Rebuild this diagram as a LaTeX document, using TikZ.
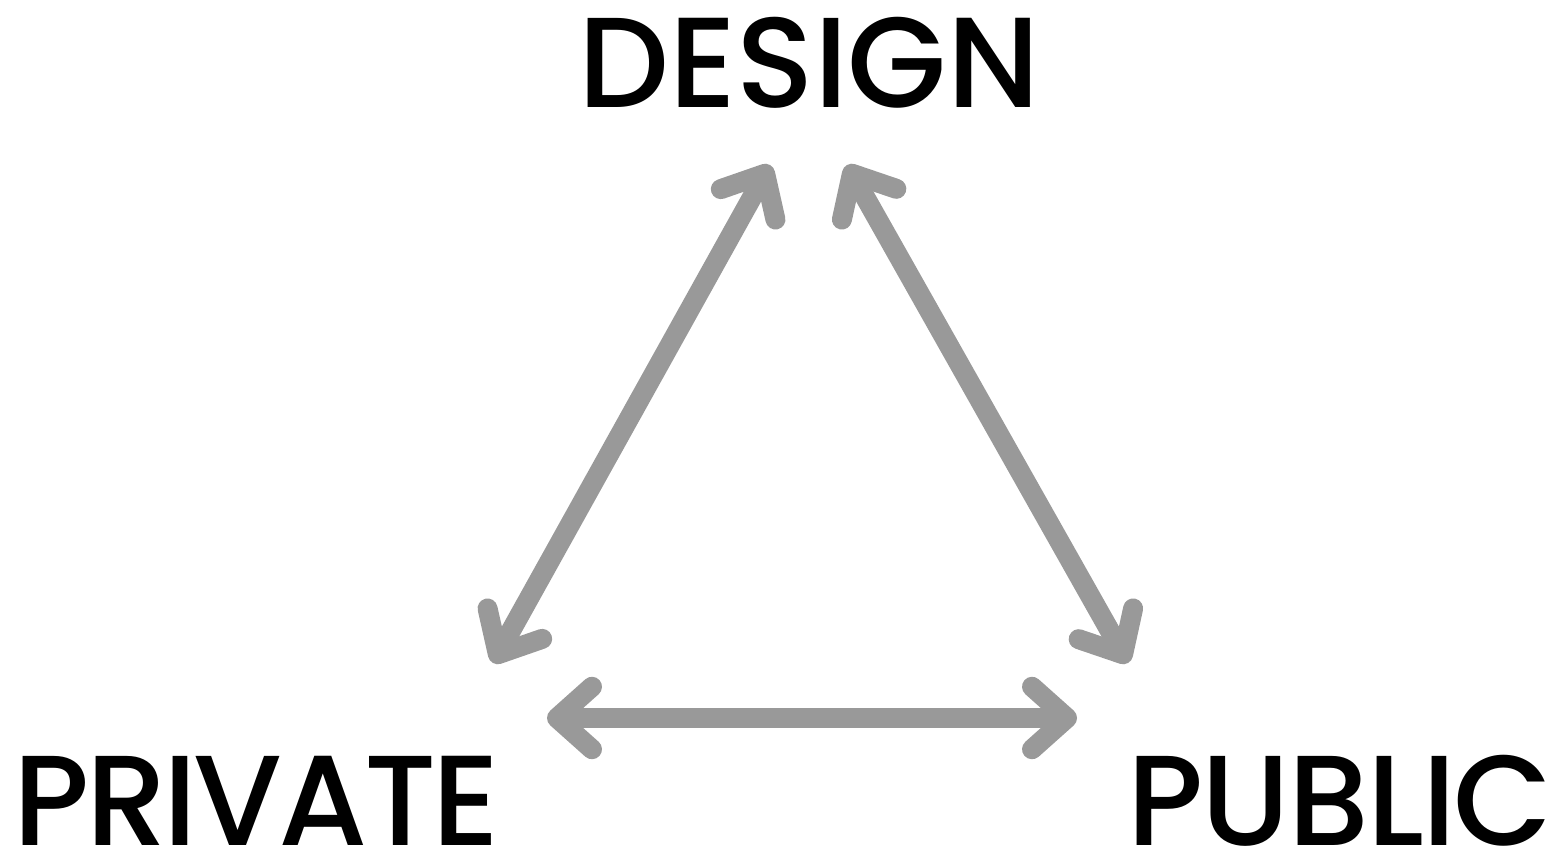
\documentclass[tikz,border=0pt]{standalone}
\usepackage{fontspec}
\newfontfamily\labelfont{Poppins Medium}
\usetikzlibrary{arrows.meta, positioning}

\begin{document}
\begin{tikzpicture}[
  x=0.02cm, y=-0.02cm,
  arr/.style = {{Straight Barb[length=0.7cm, width=1.25cm, line cap=round, line join=round]}-{Straight Barb[length=0.7cm, width=1.25cm, line cap=round, line join=round]},
                line width=0.4cm, draw=gray!80},
  lbl/.style = {inner sep=0pt, anchor=base, text depth=0pt,
                font=\labelfont\fontsize{73}{80}\selectfont},
]
\useasboundingbox (0,0) rectangle (1558,854);

% ── Labels ────────────────────────────────────────────────────────────────────
\node[lbl] (design)  at (809,108)  {DESIGN};
\node[lbl] (private) at (257,845)  {\addfontfeature{LetterSpace=-3}PRIVATE};
\node[lbl] (public)  at (1340,845) {\addfontfeature{LetterSpace=-1.5}PUBLIC};

% ── Arrow ends ────────────────────────────────────────────────────────────────
\coordinate (dl) at (770,165);
\coordinate (dr) at (847,165);
\coordinate (pt) at (493,663);
\coordinate (pr) at (547,718);
\coordinate (qt) at (1128,663);
\coordinate (ql) at (1077,718);

% ── Arrows ────────────────────────────────────────────────────────────────────
\foreach \from/\to in {dl/pt, dr/qt, pr/ql}
  \draw[arr] (\from) -- (\to);

\end{tikzpicture}
\end{document}
